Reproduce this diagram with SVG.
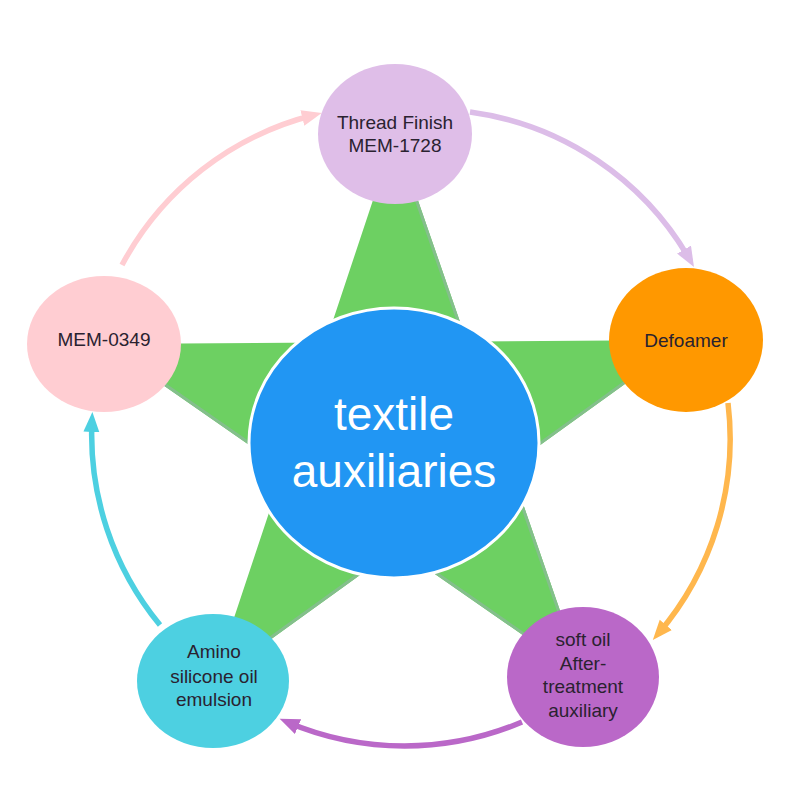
<svg xmlns="http://www.w3.org/2000/svg" width="800" height="800" viewBox="0 0 800 800">
<style>
.node-text{font-family:"Liberation Sans",Arial,sans-serif;font-size:19px;fill:#2a2230;text-anchor:middle}
.center-text{font-family:"Liberation Sans",Arial,sans-serif;font-size:46px;fill:#ffffff;text-anchor:middle}
.conn{fill:none;stroke-width:5.5}
</style>
<defs>
<clipPath id="starClip"><path d="M395,134 L583,677 L104,344 L686,340 L213,681 Z"/></clipPath>
<marker id="mPink" markerUnits="userSpaceOnUse" markerWidth="22" markerHeight="18" refX="12" refY="8" orient="auto"><path d="M0,0 L20,8 L0,16 Z" fill="#ffcdd2"/></marker>
<marker id="mLav" markerUnits="userSpaceOnUse" markerWidth="22" markerHeight="18" refX="12" refY="8" orient="auto"><path d="M0,0 L20,8 L0,16 Z" fill="#dcbde8"/></marker>
<marker id="mOrange" markerUnits="userSpaceOnUse" markerWidth="22" markerHeight="18" refX="12" refY="8" orient="auto"><path d="M0,0 L20,8 L0,16 Z" fill="#ffb74d"/></marker>
<marker id="mPurple" markerUnits="userSpaceOnUse" markerWidth="22" markerHeight="18" refX="12" refY="8" orient="auto"><path d="M0,0 L20,8 L0,16 Z" fill="#ba68c8"/></marker>
<marker id="mCyan" markerUnits="userSpaceOnUse" markerWidth="22" markerHeight="18" refX="12" refY="8" orient="auto"><path d="M0,0 L20,8 L0,16 Z" fill="#4dd0e1"/></marker>
</defs>
<rect width="800" height="800" fill="#ffffff"/>
<g id="star">
<path d="M395,134 L583,677 L104,344 L686,340 L213,681 Z" fill="#6dd062" fill-rule="nonzero"/>
<g clip-path="url(#starClip)" stroke="#84bf8c" stroke-width="6">
<line x1="395" y1="134" x2="583" y2="677"/>
<line x1="583" y1="677" x2="104" y2="344"/>
<line x1="686" y1="340" x2="213" y2="681"/>
</g>
</g>
<g id="connectors">
<path class="conn" stroke="#ffcdd2" d="M122,265 A300,300 0 0 1 314,115" marker-end="url(#mPink)"/>
<path class="conn" stroke="#dcbde8" d="M470,112 A300,300 0 0 1 690,260" marker-end="url(#mLav)"/>
<path class="conn" stroke="#ffb74d" d="M728,403 A300,300 0 0 1 658,634" marker-end="url(#mOrange)"/>
<path class="conn" stroke="#ba68c8" d="M522,722 A300,300 0 0 1 287,722" marker-end="url(#mPurple)"/>
<path class="conn" stroke="#4dd0e1" d="M160,625 A300,300 0 0 1 92,420" marker-end="url(#mCyan)"/>
</g>
<g id="center">
<ellipse cx="394" cy="443" rx="145" ry="135" fill="#2196f3" stroke="#ffffff" stroke-width="3"/>
<text class="center-text" x="394" y="430">textile</text>
<text class="center-text" x="394" y="487">auxiliaries</text>
</g>
<g id="node-thread">
<ellipse cx="395" cy="134" rx="77" ry="70" fill="#dfbee8"/>
<text class="node-text" x="395" y="129">Thread Finish</text>
<text class="node-text" x="395" y="152">MEM-1728</text>
</g>
<g id="node-defoamer">
<ellipse cx="686" cy="340" rx="77" ry="72" fill="#ff9800"/>
<text class="node-text" x="686" y="347">Defoamer</text>
</g>
<g id="node-softoil">
<ellipse cx="583" cy="677" rx="76" ry="70" fill="#ba68c8"/>
<text class="node-text" x="583" y="646">soft oil</text>
<text class="node-text" x="583" y="670">After-</text>
<text class="node-text" x="583" y="693">treatment</text>
<text class="node-text" x="583" y="717">auxiliary</text>
</g>
<g id="node-amino">
<ellipse cx="213" cy="681" rx="76" ry="67" fill="#4dd0e1"/>
<text class="node-text" x="214" y="658">Amino</text>
<text class="node-text" x="214" y="683">silicone oil</text>
<text class="node-text" x="214" y="706">emulsion</text>
</g>
<g id="node-mem0349">
<ellipse cx="104" cy="344" rx="77" ry="68" fill="#ffcdd2"/>
<text class="node-text" x="104" y="346">MEM-0349</text>
</g>
</svg>
